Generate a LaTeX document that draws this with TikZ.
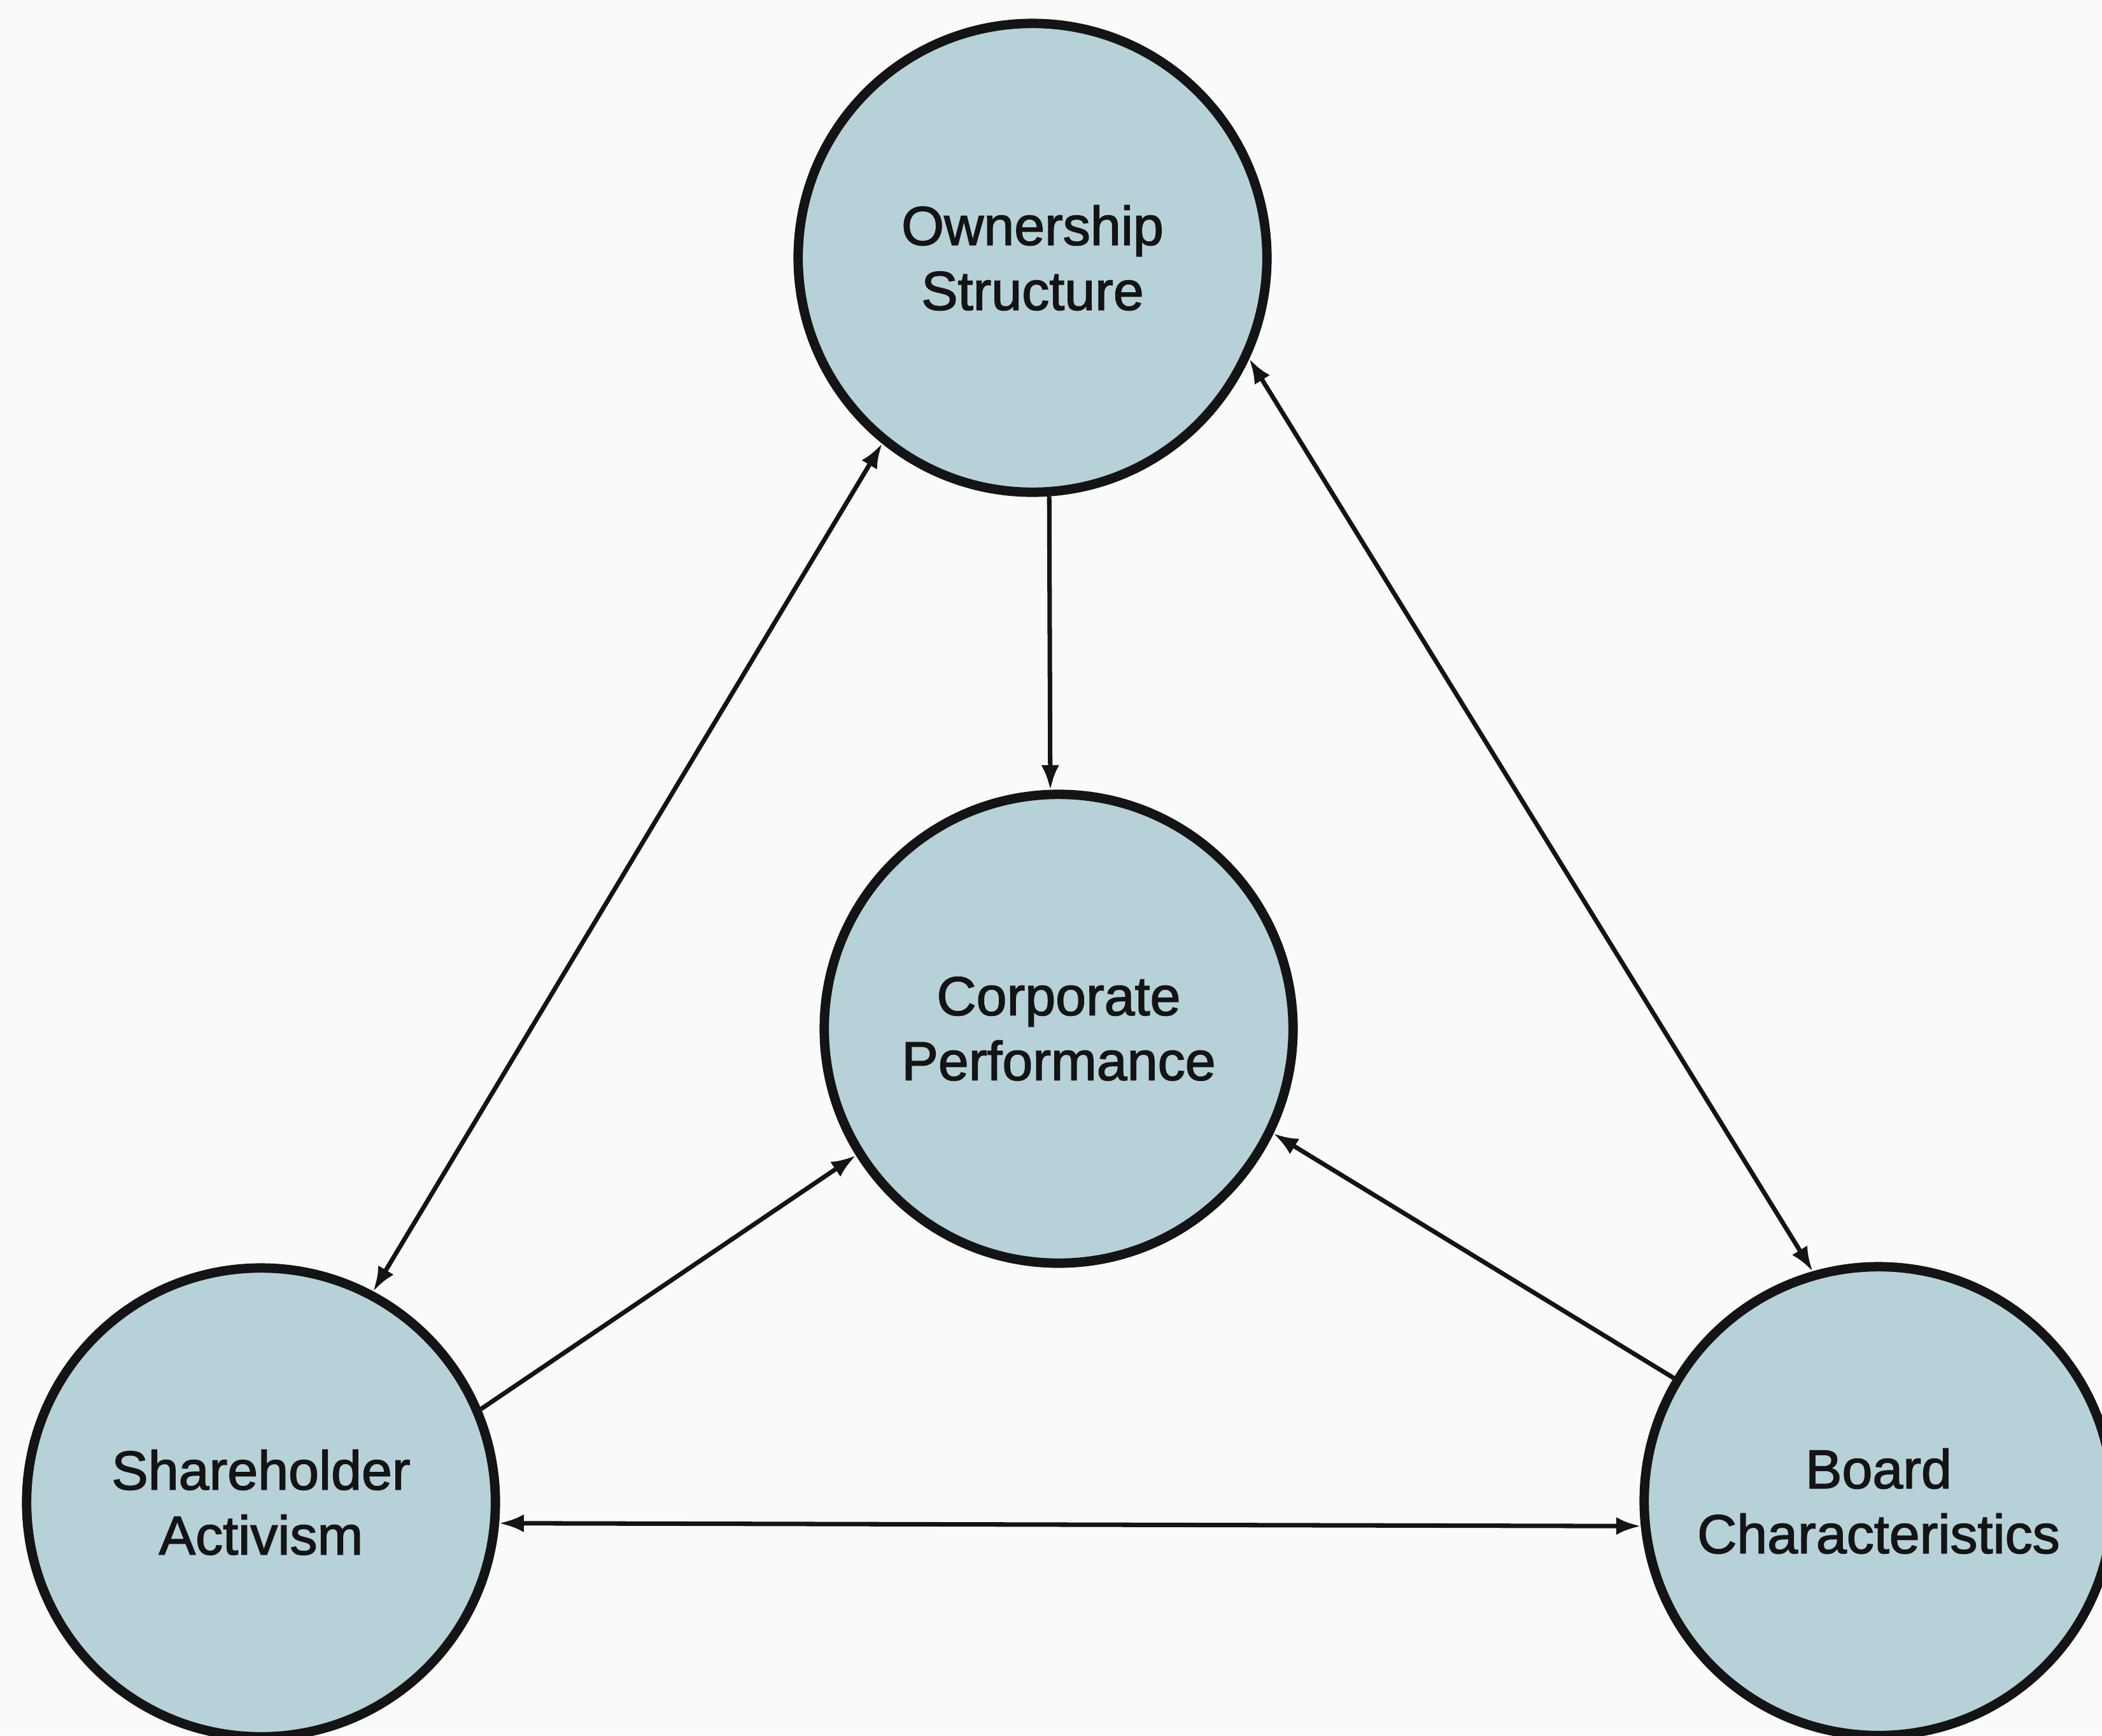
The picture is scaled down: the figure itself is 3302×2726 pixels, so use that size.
\documentclass[tikz,border=0pt]{standalone}
\usepackage{fontspec}
\setmainfont{Liberation Sans}
\newfontfamily\labelfont[BoldFont={Liberation Sans}, BoldFeatures={FakeBold=1.8}]{Liberation Sans}
\usetikzlibrary{arrows.meta}
\definecolor{bubblefill}{RGB}{182,210,216}
\definecolor{paper}{RGB}{249,250,251}
\definecolor{ink}{RGB}{20,20,20}
\begin{document}
\begin{tikzpicture}[x=0.01cm,y=-0.01cm,
  bubble/.style={circle, draw=ink, line width=4.2pt, fill=bubblefill, minimum size=7.36cm,
    inner sep=0pt, align=center, font=\labelfont\bfseries\fontsize{24.5}{29}\selectfont, text=ink},
  link/.style={draw=ink, line width=2pt},
  onetip/.style={-{Latex[length=11pt,width=8pt]}},
  twotips/.style={{Latex[length=11pt,width=8pt]}-{Latex[length=11pt,width=8pt]}}]
\fill[paper] (0,0) rectangle (3302,2726);
\useasboundingbox (0,0) rectangle (3302,2726);
\node[bubble] (O) at (1622,405) {Ownership\\Structure};
\node[bubble] (C) at (1663,1616) {Corporate\\Performance};
\node[bubble] (S) at (410,2360) {Shareholder\\Activism};
\node[bubble] (B) at (2951,2358) {Board\\Characteristics};
\draw[link,onetip] (O.-86) -- (C.92);
\draw[link,twotips] (S.62) -- (O.231);
\draw[link,twotips] (B.106) -- (O.-25);
\draw[link,onetip] (S.23) -- (C.212);
\draw[link,onetip] (B.149) -- (C.-26);
\draw[link,twotips] (S.-5.5) -- (B.186);
\end{tikzpicture}
\end{document}
